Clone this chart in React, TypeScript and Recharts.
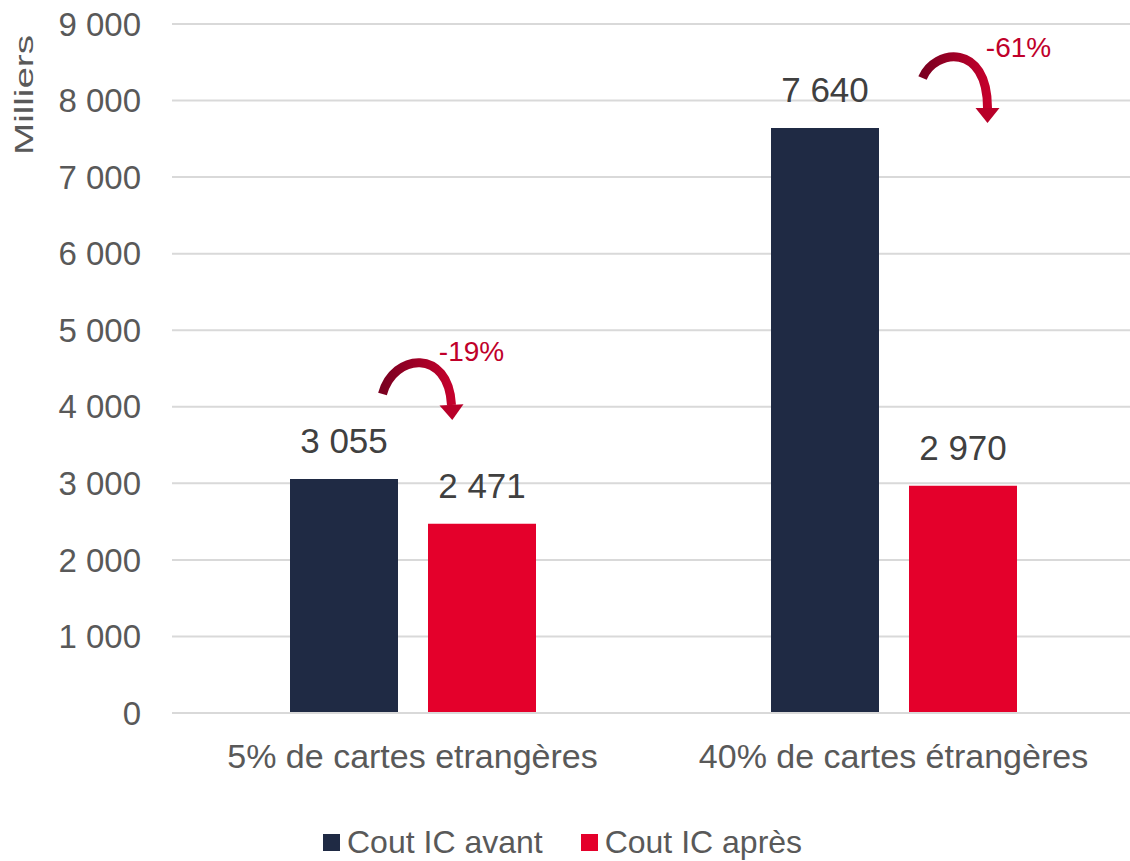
import React from 'react';
import { BarChart, Bar, XAxis, YAxis, CartesianGrid, LabelList, Legend, ReferenceDot } from 'recharts';

const categories = ['5% de cartes etrangères', '40% de cartes étrangères'];
const coutAvant = [3055, 7640];
const coutApres = [2471, 2970];
const seriesNames = ['Cout IC avant', 'Cout IC après'];
const yTicks = [0, 1000, 2000, 3000, 4000, 5000, 6000, 7000, 8000, 9000];
const annotCategories = ['5% de cartes etrangères', '40% de cartes étrangères'];
const annotValues = [4572, 8570];
const annotLabels = ['-19%', '-61%'];

const data = categories.map((c, i) => ({ cat: c, avant: coutAvant[i], apres: coutApres[i] }));

const FONT = '"Liberation Sans", Arial, sans-serif';
const NAVY = '#1F2A44';
const RED = '#E4002B';
const GRID = '#D9D9D9';
const TXT = '#595959';

const fmt = (v: number) => String(v).replace(/\B(?=(\d{3})+(?!\d))/g, ' ');

// arrow geometry (relative to the anchor point) for each annotation
const arrowGeom = [
  { dx: 11, p0: [-41, 31], p1: [-30, -10], p2: [25, -15], p3: [28, 42], tx: 48, ty: -11 },
  { dx: 66, p0: [-37, 21], p1: [-25, -8], p2: [28, -15], p3: [28, 51], tx: 59, ty: -9 },
];

const makeArrow = (idx: number) => (props: any) => {
  const { cx, cy } = props;
  if (cx == null || cy == null) return <g />;
  const g = arrowGeom[idx];
  const ax = cx + g.dx;
  const ay = cy;
  const P = (p: number[]) => [ax + p[0], ay + p[1]];
  const [x0, y0] = P(g.p0);
  const [x1, y1] = P(g.p1);
  const [x2, y2] = P(g.p2);
  const [x3, y3] = P(g.p3);
  let dxv = x3 - x2;
  let dyv = y3 - y2;
  const len = Math.hypot(dxv, dyv) || 1;
  dxv /= len;
  dyv /= len;
  const nx = -dyv;
  const ny = dxv;
  const hw = 12;
  const hl = 15;
  const head = `${x3 + nx * hw},${y3 + ny * hw} ${x3 - nx * hw},${y3 - ny * hw} ${x3 + dxv * hl},${y3 + dyv * hl}`;
  const gid = `arrowGrad${idx}`;
  return (
    <g>
      <defs>
        <linearGradient id={gid} x1="0" y1="0" x2="1" y2="0">
          <stop offset="0%" stopColor="#7A0020" />
          <stop offset="100%" stopColor="#C4002C" />
        </linearGradient>
      </defs>
      <path
        d={`M ${x0} ${y0} C ${x1} ${y1}, ${x2} ${y2}, ${x3} ${y3}`}
        fill="none"
        stroke={`url(#${gid})`}
        strokeWidth={9}
      />
      <polygon points={head} fill="#B80029" />
      <text
        x={ax + g.tx}
        y={ay + g.ty}
        textAnchor="middle"
        dominantBaseline="central"
        fontFamily={FONT}
        fontSize={28}
        fill="#C0002A"
      >
        {annotLabels[idx]}
      </text>
    </g>
  );
};

const renderLegend = () => (
  <div style={{ display: 'flex', alignItems: 'center', height: 38, paddingLeft: 323, fontFamily: FONT, fontSize: 32, color: TXT }}>
    <span style={{ width: 17, height: 17, background: NAVY, display: 'inline-block', marginRight: 7 }} />
    <span style={{ marginRight: 38 }}>{seriesNames[0]}</span>
    <span style={{ width: 17, height: 17, background: RED, display: 'inline-block', marginRight: 7 }} />
    <span>{seriesNames[1]}</span>
  </div>
);

const yLabel = () => (
  <text
    x={33}
    y={95}
    transform="rotate(-90 33 95)"
    textAnchor="middle"
    fontFamily={FONT}
    fontSize={26}
    fill={TXT}
    textLength={120}
    lengthAdjust="spacingAndGlyphs"
  >
    Milliers
  </text>
);

export default function App() {
  return (
    <div style={{ position: 'fixed', left: 0, top: 0, width: 1130, height: 861, overflow: 'hidden', background: '#fff' }}>
      <BarChart
        width={1136}
        height={861}
        data={data}
        margin={{ top: 24, right: 2, bottom: 0, left: 72 }}
        barSize={108}
        barGap={30}
      >
        <CartesianGrid vertical={false} stroke={GRID} strokeWidth={2} />
        <XAxis
          dataKey="cat"
          height={110}
          axisLine={{ stroke: GRID, strokeWidth: 2 }}
          tickLine={false}
          tickSize={0}
          tickMargin={31}
          tick={{ fontFamily: FONT, fontSize: 34, fill: TXT }}
          interval={0}
        />
        <YAxis
          width={100}
          domain={[0, 9000]}
          ticks={yTicks}
          tickFormatter={fmt}
          axisLine={false}
          tickLine={false}
          tickSize={0}
          tickMargin={31}
          tick={{ fontFamily: FONT, fontSize: 33, fill: TXT }}
          label={yLabel}
        />
        <Legend verticalAlign="bottom" content={renderLegend} wrapperStyle={{ left: 0, width: 1130, height: 38 }} />
        <Bar dataKey="avant" name={seriesNames[0]} fill={NAVY} isAnimationActive={false}>
          <LabelList dataKey="avant" position="top" offset={26} formatter={fmt} style={{ fontFamily: FONT, fontSize: 35, fill: '#404040' }} />
        </Bar>
        <Bar dataKey="apres" name={seriesNames[1]} fill={RED} isAnimationActive={false}>
          <LabelList dataKey="apres" position="top" offset={26} formatter={fmt} style={{ fontFamily: FONT, fontSize: 35, fill: '#404040' }} />
        </Bar>
        {annotCategories.map((c, i) => (
          <ReferenceDot key={i} x={c} y={annotValues[i]} r={0} shape={makeArrow(i)} ifOverflow="visible" />
        ))}
      </BarChart>
    </div>
  );
}
